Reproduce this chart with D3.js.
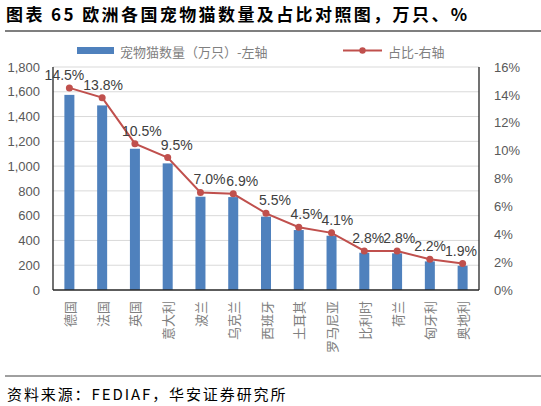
<!DOCTYPE html>
<html>
<head>
<meta charset="utf-8">
<script src="https://cdn.jsdelivr.net/npm/d3@7"></script>
<style>
  body { margin: 0; background: #fff; }
  text { font-family: "Liberation Sans", Arial, "Noto Sans CJK SC", sans-serif; }
</style>
</head>
<body>
<div class="canvas"></div>
<script>
// data
const countries = ["德国", "法国", "英国", "意大利", "波兰", "乌克兰", "西班牙", "土耳其", "罗马尼亚", "比利时", "荷兰", "匈牙利", "奥地利"];
const catCounts = [1575, 1490, 1140, 1022, 753, 750, 592, 484, 438, 301, 296, 231, 196];
const catShares = [14.5, 13.8, 10.5, 9.5, 7.0, 6.9, 5.5, 4.5, 4.1, 2.8, 2.8, 2.2, 1.9];
const leftTicks = [0, 200, 400, 600, 800, 1000, 1200, 1400, 1600, 1800];
const rightTicks = [0, 2, 4, 6, 8, 10, 12, 14, 16];

const dims = { width: 541, height: 406 };
const plot = { left: 53, right: 479, top: 67, bottom: 290 };

const svg = d3
  .select(".canvas")
  .append("svg")
  .attr("width", dims.width)
  .attr("height", dims.height);

const cjk = '"Noto Sans CJK SC", "Liberation Sans", sans-serif';

// title + rule
svg.append("text")
  .attr("x", 6)
  .attr("y", 21)
  .attr("font-size", 17)
  .attr("font-weight", "bold")
  .attr("letter-spacing", 2.4)
  .attr("fill", "#000")
  .style("font-family", cjk)
  .text("图表 65 欧洲各国宠物猫数量及占比对照图，万只、%");

svg.append("line")
  .attr("x1", 5).attr("x2", 541)
  .attr("y1", 31).attr("y2", 31)
  .attr("stroke", "#7f7f7f")
  .attr("stroke-width", 2);

// scales
const x = d3.scaleBand()
  .domain(countries)
  .range([plot.left, plot.right])
  .paddingInner(0)
  .paddingOuter(0);

const yLeft = d3.scaleLinear().domain([0, 1800]).range([plot.bottom, plot.top]);
const yRight = d3.scaleLinear().domain([0, 16]).range([plot.bottom, plot.top]);

const cx = (d) => x(d) + x.bandwidth() / 2;

// grid
svg.append("g")
  .selectAll("line")
  .data(leftTicks.slice(1))
  .join("line")
  .attr("x1", plot.left).attr("x2", plot.right)
  .attr("y1", (d) => yLeft(d)).attr("y2", (d) => yLeft(d))
  .attr("stroke", "#d9d9d9")
  .attr("stroke-width", 1);

// left axis
const leftAxis = d3.axisLeft(yLeft)
  .tickValues(leftTicks)
  .tickFormat(d3.format(","))
  .tickSize(0)
  .tickPadding(13);

const gl = svg.append("g")
  .attr("transform", `translate(${plot.left},0)`)
  .call(leftAxis);
gl.select(".domain").remove();
gl.selectAll("text").attr("font-size", 13).attr("fill", "#595959").style("font-family", null);

// right axis
const rightAxis = d3.axisRight(yRight)
  .tickValues(rightTicks)
  .tickFormat((d) => d + "%")
  .tickSize(0)
  .tickPadding(15);

const gr = svg.append("g")
  .attr("transform", `translate(${plot.right},0)`)
  .call(rightAxis);
gr.select(".domain").remove();
gr.selectAll("text").attr("font-size", 13).attr("fill", "#595959").style("font-family", null);

// bars
const barW = 10;
svg.append("g")
  .selectAll("rect")
  .data(countries)
  .join("rect")
  .attr("x", (d) => cx(d) - barW / 2)
  .attr("width", barW)
  .attr("y", (d, i) => yLeft(catCounts[i]))
  .attr("height", (d, i) => plot.bottom - yLeft(catCounts[i]))
  .attr("fill", "#4f81bd");

// axis lines
const axisCol = "#262626";
svg.append("line")
  .attr("x1", plot.left).attr("x2", plot.left)
  .attr("y1", plot.top).attr("y2", plot.bottom)
  .attr("stroke", axisCol).attr("stroke-width", 1.3);
svg.append("line")
  .attr("x1", plot.right).attr("x2", plot.right)
  .attr("y1", plot.top).attr("y2", plot.bottom)
  .attr("stroke", axisCol).attr("stroke-width", 1.3);
svg.append("line")
  .attr("x1", plot.left).attr("x2", plot.right)
  .attr("y1", plot.bottom).attr("y2", plot.bottom)
  .attr("stroke", axisCol).attr("stroke-width", 1.5);

// line series
const lineGen = d3.line()
  .x((d, i) => cx(countries[i]))
  .y((d) => yRight(d));

svg.append("path")
  .datum(catShares)
  .attr("d", lineGen)
  .attr("fill", "none")
  .attr("stroke", "#c0504d")
  .attr("stroke-width", 2);

svg.append("g")
  .selectAll("circle")
  .data(catShares)
  .join("circle")
  .attr("cx", (d, i) => cx(countries[i]))
  .attr("cy", (d) => yRight(d))
  .attr("r", 3.5)
  .attr("fill", "#c0504d");

// data labels: sit a little right of the point, pushed left if they run into the next one
const labels = svg.append("g")
  .selectAll("text")
  .data(catShares)
  .join("text")
  .attr("x", (d, i) => cx(countries[i]) + 9)
  .attr("y", (d) => yRight(d) - 8)
  .attr("text-anchor", "middle")
  .attr("font-size", 14)
  .attr("fill", "#404040")
  .text((d) => d.toFixed(1) + "%");

let limit = plot.right - 2;
labels.nodes().reverse().forEach((node) => {
  const w = node.getComputedTextLength();
  let c = +node.getAttribute("x");
  if (c + w / 2 > limit) c = limit - w / 2;
  node.setAttribute("x", c);
  limit = c - w / 2 + 1;
});

// category labels (rotated)
svg.append("g")
  .selectAll("text")
  .data(countries)
  .join("text")
  .attr("transform", (d) => `translate(${cx(d)},${plot.bottom + 11}) rotate(-90)`)
  .attr("text-anchor", "end")
  .attr("dominant-baseline", "central")
  .attr("font-size", 13)
  .attr("fill", "#808080")
  .style("font-family", cjk)
  .text((d) => d);

// legend
const legend = svg.append("g");
legend.append("rect")
  .attr("x", 77).attr("y", 47)
  .attr("width", 37).attr("height", 7)
  .attr("fill", "#4f81bd");
legend.append("text")
  .attr("x", 120).attr("y", 51)
  .attr("dominant-baseline", "central")
  .attr("font-size", 13)
  .attr("fill", "#808080")
  .style("font-family", cjk)
  .text("宠物猫数量（万只）-左轴");

legend.append("line")
  .attr("x1", 343).attr("x2", 382)
  .attr("y1", 50.5).attr("y2", 50.5)
  .attr("stroke", "#c0504d").attr("stroke-width", 2);
legend.append("circle")
  .attr("cx", 362.5).attr("cy", 50.5).attr("r", 3.2)
  .attr("fill", "#c0504d");
legend.append("text")
  .attr("x", 388).attr("y", 51)
  .attr("dominant-baseline", "central")
  .attr("font-size", 13)
  .attr("fill", "#808080")
  .style("font-family", cjk)
  .text("占比-右轴");

// source
svg.append("line")
  .attr("x1", 5).attr("x2", 541)
  .attr("y1", 376).attr("y2", 376)
  .attr("stroke", "#404040")
  .attr("stroke-width", 1);

svg.append("text")
  .attr("x", 7)
  .attr("y", 393)
  .attr("dominant-baseline", "central")
  .attr("font-size", 15)
  .attr("fill", "#000")
  .attr("letter-spacing", 1.9)
  .style("font-family", cjk)
  .text("资料来源：FEDIAF，华安证券研究所");
</script>
</body>
</html>
